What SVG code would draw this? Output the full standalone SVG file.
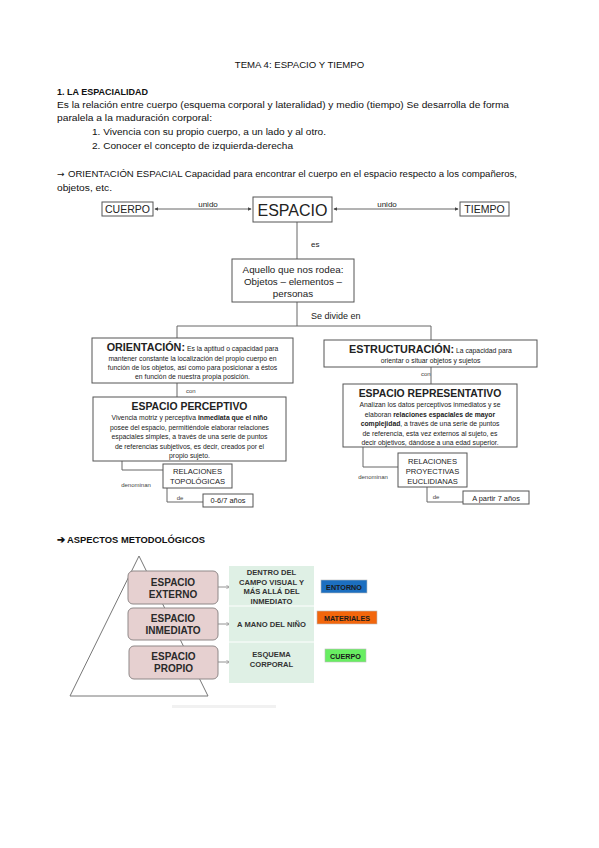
<svg xmlns="http://www.w3.org/2000/svg" width="599" height="848" viewBox="0 0 599 848">
<defs>
<style>
.doc{font-family:"Liberation Sans","Noto Sans",sans-serif;font-size:9.6px;fill:#111}
.docb{font-family:"Liberation Sans","Noto Sans",sans-serif;font-size:9.6px;font-weight:bold;fill:#111}
.d{font-family:"Liberation Sans",Arial,sans-serif;fill:#222}
.box{fill:#fff;stroke:#555;stroke-width:1}
.ln{fill:none;stroke:#666;stroke-width:1}
.sm{font-size:6.8px}
.lab{font-size:6px;fill:#444}
.mid{text-anchor:middle}
.b{font-weight:bold}
.pill{fill:#e6d0d0;stroke:#8f8888;stroke-width:1}
.pt{font-family:"Liberation Sans",Arial,sans-serif;font-weight:bold;font-size:10px;fill:#2a2a2a;text-anchor:middle}
.gt{font-family:"Liberation Sans",Arial,sans-serif;font-weight:bold;font-size:7.6px;fill:#333;text-anchor:middle}
.tag{font-family:"Liberation Sans",Arial,sans-serif;font-weight:bold;font-size:7.2px;fill:#1a1a1a;text-anchor:middle}
</style>
<marker id="ah" viewBox="0 0 6 6" refX="5" refY="3" markerWidth="4" markerHeight="4" orient="auto-start-reverse">
<path d="M0,0 L6,3 L0,6 z" fill="#444"/>
</marker>
<marker id="oa" viewBox="0 0 6 6" refX="5.5" refY="3" markerWidth="5" markerHeight="5" orient="auto">
<path d="M0,0.5 L5.5,3 L0,5.5" fill="none" stroke="#777" stroke-width="0.8"/>
</marker>
</defs>
<rect width="599" height="848" fill="#fff"/>

<!-- document text -->
<text class="doc mid" x="299.5" y="68">TEMA 4: ESPACIO Y TIEMPO</text>
<text class="docb" x="57" y="95" textLength="91" lengthAdjust="spacingAndGlyphs">1. LA ESPACIALIDAD</text>
<text class="doc" x="57" y="108" textLength="452" lengthAdjust="spacingAndGlyphs">Es la relación entre cuerpo (esquema corporal y lateralidad) y medio (tiempo) Se desarrolla de forma</text>
<text class="doc" x="57" y="121" textLength="155" lengthAdjust="spacingAndGlyphs">paralela a la maduración corporal:</text>
<text class="doc" x="92" y="135" textLength="234" lengthAdjust="spacingAndGlyphs">1. Vivencia con su propio cuerpo, a un lado y al otro.</text>
<text class="doc" x="92" y="149" textLength="201" lengthAdjust="spacingAndGlyphs">2. Conocer el concepto de izquierda-derecha</text>
<text class="doc" x="57" y="177"><tspan font-family="DejaVu Sans" font-size="9">→</tspan><tspan x="68" textLength="449" lengthAdjust="spacingAndGlyphs">ORIENTACIÓN ESPACIAL Capacidad para encontrar el cuerpo en el espacio respecto a los compañeros,</tspan></text>
<text class="doc" x="57" y="191" textLength="55" lengthAdjust="spacingAndGlyphs">objetos, etc.</text>

<!-- connectors -->
<g id="connectors">
<line class="ln" x1="155" y1="209" x2="251" y2="209" marker-start="url(#ah)" marker-end="url(#ah)"/>
<text class="d mid" x="208" y="207" font-size="8">unido</text>
<line class="ln" x1="334" y1="209" x2="458" y2="209" marker-start="url(#ah)" marker-end="url(#ah)"/>
<text class="d mid" x="387" y="207" font-size="8">unido</text>
<line class="ln" x1="297" y1="222" x2="297" y2="259"/>
<text class="d" x="311" y="247" font-size="8">es</text>
<polyline class="ln" points="297,302 297,326"/>
<polyline class="ln" points="177,340 177,326 431,326 431,340"/>
<text class="d" x="311" y="319" font-size="9">Se divide en</text>
<line class="ln" x1="177" y1="383" x2="177" y2="397"/>
<text class="d lab" x="186" y="393">con</text>
<line class="ln" x1="431" y1="367" x2="431" y2="384"/>
<text class="d lab" x="421" y="376">con</text>
<polyline class="ln" points="122,461 122,470 163,470"/>
<text class="d lab mid" x="136" y="487">denominan</text>
<polyline class="ln" points="167,488 167,502 203,502"/>
<text class="d lab mid" x="180" y="500">de</text>
<polyline class="ln" points="363,447 363,467 398,467"/>
<text class="d lab mid" x="373" y="479">denominan</text>
<polyline class="ln" points="427,487 427,502 463,502"/>
<text class="d lab mid" x="436" y="499">de</text>
<line x1="218" y1="587" x2="230" y2="587" stroke="#777" stroke-width="0.8" marker-end="url(#oa)"/>
<line x1="218" y1="624" x2="230" y2="624" stroke="#777" stroke-width="0.8" marker-end="url(#oa)"/>
<line x1="218" y1="662" x2="230" y2="662" stroke="#777" stroke-width="0.8" marker-end="url(#oa)"/>
</g>

<g id="cuerpo"><rect class="box" x="102" y="202" width="51" height="14"/><text class="d mid" x="127.5" y="213" font-size="10.5">CUERPO</text></g>
<g id="espacio"><rect class="box" x="253" y="197" width="79" height="25"/><text class="d mid" x="292.5" y="215.5" font-size="16">ESPACIO</text></g>
<g id="tiempo"><rect class="box" x="460" y="202" width="49" height="14"/><text class="d mid" x="484.5" y="213" font-size="10.5">TIEMPO</text></g>

<g id="aquello"><rect class="box" x="232" y="259" width="122" height="43"/>
<text class="d mid" font-size="9.8"><tspan x="293" y="273">Aquello que nos rodea:</tspan><tspan x="293" y="285">Objetos – elementos –</tspan><tspan x="293" y="297">personas</tspan></text></g>

<g id="orientacion"><rect class="box" x="92" y="338" width="201" height="45"/>
<text class="d mid sm"><tspan x="192.5" y="351"><tspan class="b" font-size="10.8">ORIENTACIÓN:</tspan> Es la aptitud o capacidad para</tspan><tspan x="192.5" y="361">mantener constante la localización del propio cuerpo en</tspan><tspan x="192.5" y="370">función de los objetos, así como para posicionar  a éstos</tspan><tspan x="192.5" y="379">en función de nuestra propia posición.</tspan></text></g>

<g id="perceptivo"><rect class="box" x="93" y="397" width="193" height="64"/>
<text class="d mid b" x="189.5" y="410" font-size="10.4">ESPACIO PERCEPTIVO</text>
<text class="d mid sm"><tspan x="189.5" y="420">Vivencia motriz y perceptiva <tspan class="b">inmediata que el niño</tspan></tspan><tspan x="189.5" y="429.5">posee del espacio, permitiéndole elaborar relaciones</tspan><tspan x="189.5" y="439">espaciales simples, a través de una serie de puntos</tspan><tspan x="189.5" y="448.5">de referencias subjetivos, es decir, creados por el</tspan><tspan x="189.5" y="458">propio sujeto.</tspan></text></g>

<g id="topologicas"><rect class="box" x="163" y="464" width="69" height="24"/>
<text class="d mid" font-size="7.6"><tspan x="197.5" y="474">RELACIONES</tspan><tspan x="197.5" y="484">TOPOLÓGICAS</tspan></text></g>
<g id="edad1"><rect class="box" x="203" y="494" width="50" height="13"/><text class="d mid" x="228" y="503" font-size="7.4">0-6/7 años</text></g>

<g id="estructuracion"><rect class="box" x="324" y="340" width="213" height="27"/>
<text class="d mid sm"><tspan x="430.5" y="353"><tspan class="b" font-size="10.8">ESTRUCTURACIÓN:</tspan> La capacidad para</tspan><tspan x="430.5" y="363">orientar o situar objetos y sujetos</tspan></text></g>

<g id="representativo"><rect class="box" x="343" y="384" width="174" height="63"/>
<text class="d mid b" x="430" y="397" font-size="10.4">ESPACIO REPRESENTATIVO</text>
<text class="d mid sm"><tspan x="430" y="407">Analizan los datos perceptivos inmediatos y se</tspan><tspan x="430" y="416.5">elaboran <tspan class="b">relaciones espaciales de mayor</tspan></tspan><tspan x="430" y="426"><tspan class="b">complejidad</tspan>, a través de una serie de puntos</tspan><tspan x="430" y="435.5">de referencia, esta vez externos al sujeto, es</tspan><tspan x="430" y="445">decir objetivos, dándose a una edad superior.</tspan></text></g>

<g id="proyectivas"><rect class="box" x="398" y="453" width="69" height="34"/>
<text class="d mid" font-size="7.6"><tspan x="432.5" y="463.5">RELACIONES</tspan><tspan x="432.5" y="473.5">PROYECTIVAS</tspan><tspan x="432.5" y="483.5">EUCLIDIANAS</tspan></text></g>
<g id="edad2"><rect class="box" x="463" y="491" width="66" height="13"/><text class="d mid" x="496" y="500.5" font-size="7.4">A partir 7 años</text></g>

<!-- aspectos metodologicos -->
<text class="docb" x="57" y="543" textLength="148" lengthAdjust="spacingAndGlyphs">➔ ASPECTOS METODOLÓGICOS</text>

<g id="piramide">
<path d="M139,556 L70,696 L208,696 Z" fill="none" stroke="#777" stroke-width="1"/>
</g>
<g id="panel">
<rect x="229" y="566" width="85" height="117" fill="#dff0e5"/>
<line x1="229" y1="606" x2="314" y2="606" stroke="#fff" stroke-width="1"/>
<line x1="229" y1="642" x2="314" y2="642" stroke="#fff" stroke-width="1"/>
</g>
<g id="externo"><rect class="pill" x="128" y="571" width="90" height="33" rx="5"/>
<text class="pt"><tspan x="173" y="586">ESPACIO</tspan><tspan x="173" y="598">EXTERNO</tspan></text></g>
<g id="inmediato"><rect class="pill" x="128" y="608" width="90" height="32" rx="5"/>
<text class="pt"><tspan x="173" y="622">ESPACIO</tspan><tspan x="173" y="634">INMEDIATO</tspan></text></g>
<g id="propio"><rect class="pill" x="129" y="646" width="89" height="33" rx="5"/>
<text class="pt"><tspan x="173.5" y="660">ESPACIO</tspan><tspan x="173.5" y="672">PROPIO</tspan></text></g>

<g id="dentro"><text class="gt"><tspan x="271.5" y="575">DENTRO DEL</tspan><tspan x="271.5" y="584.5">CAMPO VISUAL Y</tspan><tspan x="271.5" y="594">MÁS ALLÁ DEL</tspan><tspan x="271.5" y="603.5">INMEDIATO</tspan></text></g>
<g id="mano"><text class="gt" x="271.5" y="627">A MANO DEL NIÑO</text></g>
<g id="esquema"><text class="gt"><tspan x="271.5" y="657">ESQUEMA</tspan><tspan x="271.5" y="667">CORPORAL</tspan></text></g>

<g id="entorno"><rect x="321" y="580" width="46" height="13" fill="#1c6fc0" stroke="#bbb" stroke-width="0.6"/><text class="tag" x="344" y="589.5">ENTORNO</text></g>
<g id="materiales"><rect x="317" y="611" width="60" height="13" fill="#f2660c" stroke="#bbb" stroke-width="0.6"/><text class="tag" x="347" y="620.5">MATERIALES</text></g>
<g id="cuerpo2"><rect x="325" y="649" width="41" height="13" fill="#68ee62" stroke="#bbb" stroke-width="0.6"/><text class="tag" x="345.5" y="658.5">CUERPO</text></g>

<rect x="172" y="705" width="104" height="3" fill="#eeeeee" opacity="0.8"/>
</svg>
